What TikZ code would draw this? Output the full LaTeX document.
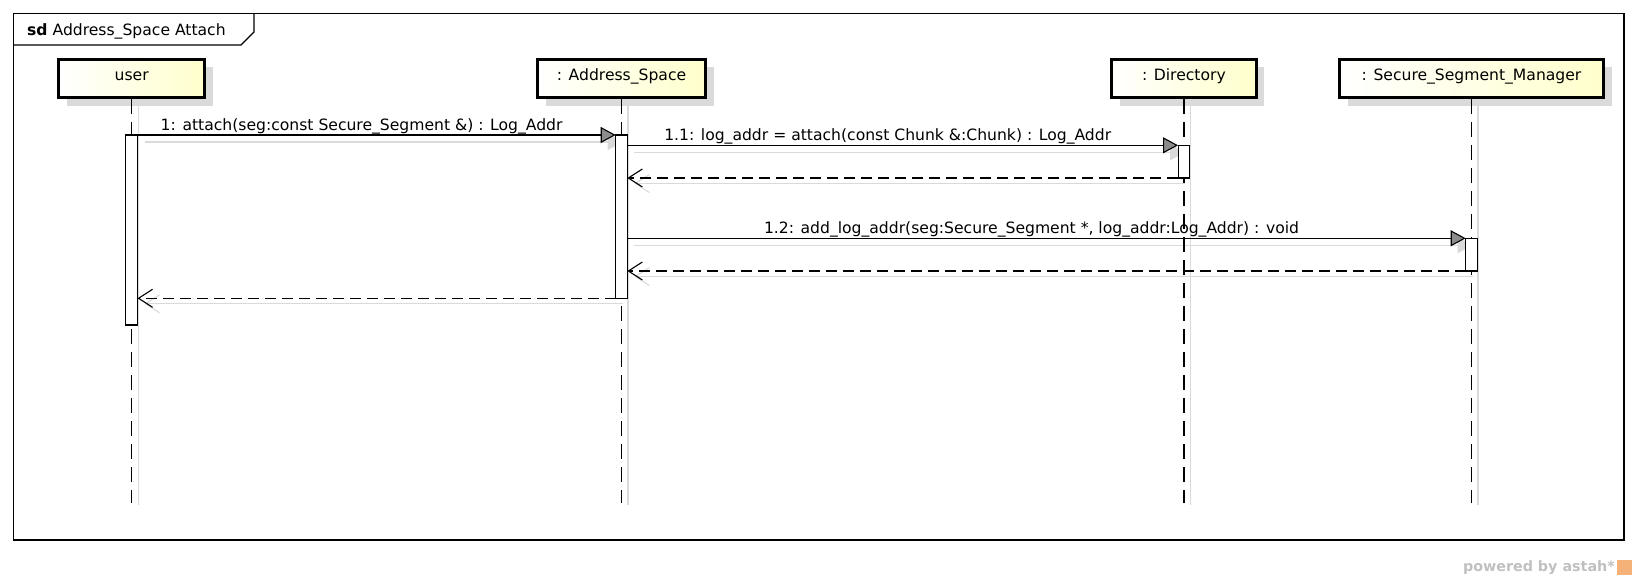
\documentclass[tikz,border=0pt]{standalone}
\usepackage{fontspec}
\setmainfont{DejaVu Sans}
\usetikzlibrary{arrows.meta,  % pointes de fleches
           calc,              % calculs de coordonnees
           positioning,
           shadows}           % ombres des tetes
\pgfdeclarelayer{background}
\pgfsetlayers{background,main}
\definecolor{headfill}{RGB}{255,255,204}
\definecolor{shade}{RGB}{218,218,218}
\definecolor{astahgray}{RGB}{192,192,192}
\definecolor{astahor}{RGB}{244,178,120}

\tikzset{
  frame/.style={line width=1.2pt},
  head/.style={draw,line width=3pt,left color=white,right color=headfill,
    minimum height=38.3pt,text height=9pt,text depth=5pt,inner sep=0pt,
    drop shadow={shadow xshift=8pt,shadow yshift=-8pt,fill=shade,opacity=1}},
  bar/.style={draw,fill=white,line width=1.1pt,minimum width=11.7pt,
    inner sep=0pt,outer sep=0pt,anchor=north},
  lifeline/.style={line width=1.3pt,dash pattern=on 15pt off 8pt},
  lshadow/.style={line width=1.2pt,draw=shade},
  call/.style={line width=1.1pt,-{Triangle[length=15pt,width=16pt,fill=black!45]}},
  callshadow/.style={line width=1.1pt,draw=shade,-{Triangle[length=15pt,width=16pt,fill=shade]}},
  reply/.style={line width=1.1pt,dash pattern=on 11pt off 6pt,-{Straight Barb[length=14pt,width=18pt]}},
  replyshadow/.style={line width=1.1pt,draw=shade,-{Straight Barb[length=14pt,width=18pt]}},
  msg/.style={midway,above,inner sep=0.5pt,xshift=-15pt}
}

\begin{document}
\begin{tikzpicture}[x=1pt,y=-1pt,font=\fontsize{15.6}{18.7}\selectfont]
\useasboundingbox (0,0) rectangle (1637,580);
% cadre sd
\draw[frame] (13.3,13.3) rectangle (1624,540);
\draw[frame] (13.3,45) -- (241,45) -- (254,32) -- (254,13.3);
\node[anchor=base west,inner sep=0pt] (title) at (27,36) {\textbf{sd} Address\_Space Attach};
% tetes
\node[head,minimum width=145.7pt] (user) at (131.7,78.5) {user};
\node[head,minimum width=168pt] (aspace) at (621.5,78.5) {: Address\_Space};
\node[head,minimum width=144.7pt] (dir) at (1183.9,78.5) {: Directory};
\node[head,minimum width=264pt] (ssm) at (1471.5,78.5) {: Secure\_Segment\_Manager};
% lignes de vie
\foreach \n in {user,aspace,dir,ssm}{
  \draw[lifeline] (\n.south) -- (\n |- 0,503);
}
% activations
\node[bar,minimum height=190pt] (ubar) at (user |- 0,135) {};
\node[bar,minimum height=163.3pt] (abar) at (aspace |- 0,135) {};
\node[bar,minimum height=32.7pt] (dbar) at (dir |- 0,145.3) {};
\node[bar,minimum height=32.7pt] (sbar) at (ssm |- 0,238.3) {};
% messages
\draw[call] (ubar.north east) -- node[msg]{1: attach(seg:const Secure\_Segment \&) : Log\_Addr} (abar.north west);
\draw[call] (abar.east |- dbar.north) -- node[msg]{1.1: log\_addr = attach(const Chunk \&:Chunk) : Log\_Addr} (dbar.north west);
\draw[reply] (dbar.south west) -- (abar.east |- dbar.south);
\draw[call] (abar.east |- sbar.north) -- node[msg]{1.2: add\_log\_addr(seg:Secure\_Segment *, log\_addr:Log\_Addr) : void} (sbar.north west);
\draw[reply] (sbar.south west) -- (abar.east |- sbar.south);
\draw[reply] (abar.south west) -- (ubar.east |- abar.south);
% ombres
\begin{pgfonlayer}{background}
\foreach \n in {user,aspace,dir,ssm}{
  \draw[lshadow] ($(\n.south)+(6.5,0)$) -- ($(\n |- 0,505)+(6.5,0)$);
}
\draw[callshadow] ($(ubar.north east)+(7,7)$) -- ($(abar.north west)+(7,7)$);
\draw[callshadow] ($(abar.east |- dbar.north)+(7,7)$) -- ($(dbar.north west)+(7,7)$);
\draw[replyshadow] ($(dbar.south west)+(7,5.5)$) -- ($(abar.east |- dbar.south)+(7,5.5)$);
\draw[callshadow] ($(abar.east |- sbar.north)+(7,7)$) -- ($(sbar.north west)+(7,7)$);
\draw[replyshadow] ($(sbar.south west)+(7,5.5)$) -- ($(abar.east |- sbar.south)+(7,5.5)$);
\draw[replyshadow] ($(abar.south west)+(7,5.5)$) -- ($(ubar.east |- abar.south)+(7,5.5)$);
\end{pgfonlayer}
% signature
\node[anchor=base east,inner sep=0pt,text=astahgray,font=\fontsize{14.3}{17}\selectfont\bfseries] (powered) at (1615,571.7) {powered by astah*};
\node[fill=astahor,minimum width=15.6pt,minimum height=15pt,inner sep=0pt] (logo) at (1624.5,567.5) {};
\end{tikzpicture}
\end{document}
